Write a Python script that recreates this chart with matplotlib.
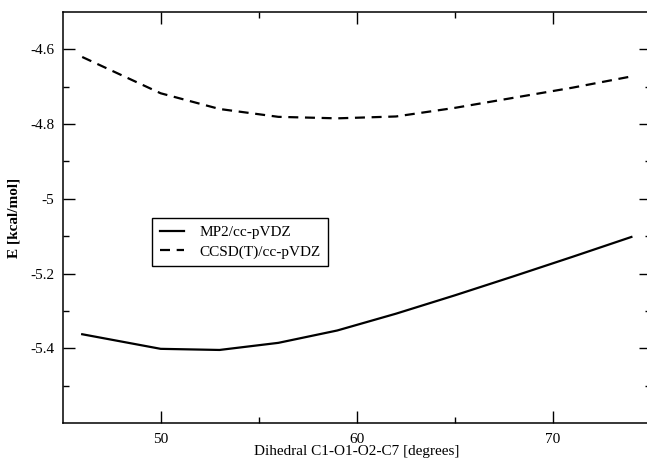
import matplotlib
matplotlib.use("Agg")
import matplotlib.pyplot as plt
from matplotlib.ticker import FixedLocator, FixedFormatter

dihedral = [46, 50, 53, 56, 59, 62, 65, 68, 71, 74]
mp2 = [-5.362, -5.401, -5.404, -5.385, -5.352, -5.307, -5.258, -5.207, -5.155, -5.102]
ccsd = [-4.621, -4.718, -4.760, -4.781, -4.785, -4.780, -4.757, -4.730, -4.703, -4.673]

xticks = [50, 60, 70]
xtick_labels = ["50", "60", "70"]
yticks = [-5.4, -5.2, -5.0, -4.8, -4.6]
ytick_labels = ["-5.4", "-5.2", "-5", "-4.8", "-4.6"]

plt.rcParams['font.family'] = ['Liberation Serif', 'DejaVu Serif']

W, H = 647, 462
fig = plt.figure(figsize=(W / 100, H / 100), dpi=100)
left_px, right_px, top_px, bottom_px = 62.6, 651.0, 11.7, 423.3
ax = fig.add_axes([left_px / W, 1 - bottom_px / H,
                   (right_px - left_px) / W, (bottom_px - top_px) / H])

ax.plot(dihedral, mp2, color='black', lw=1.6, label='MP2/cc-pVDZ')
ax.plot(dihedral, ccsd, color='black', lw=1.6, dashes=(4.5, 3), label='CCSD(T)/cc-pVDZ')

ax.set_xlim(45, 75)
ax.set_ylim(-5.6, -4.5)

ax.xaxis.set_major_locator(FixedLocator(xticks))
ax.xaxis.set_major_formatter(FixedFormatter(xtick_labels))
ax.xaxis.set_minor_locator(FixedLocator([55, 65]))
ax.yaxis.set_major_locator(FixedLocator(yticks))
ax.yaxis.set_major_formatter(FixedFormatter(ytick_labels))
ax.yaxis.set_minor_locator(FixedLocator([-5.5, -5.3, -5.1, -4.9, -4.7]))

ax.tick_params(which='both', direction='in', top=True, right=True, width=1.0,
               labelsize=11, colors='black')
ax.tick_params(which='major', length=8.6, pad=6)
ax.tick_params(axis='x', which='major', pad=7)
ax.tick_params(which='minor', length=4.3)
for s in ax.spines.values():
    s.set_linewidth(1.1)

ax.set_xlabel('Dihedral C1-O1-O2-C7 [degrees]', fontsize=11, labelpad=-1)
ax.set_ylabel('E [kcal/mol]', fontsize=11, fontweight='bold', labelpad=7)

leg = ax.legend(loc='upper left', bbox_to_anchor=(152 / W, 1 - 218 / H),
                bbox_transform=fig.transFigure, fontsize=11, frameon=True,
                fancybox=False, edgecolor='black', framealpha=1,
                handlelength=1.6, handletextpad=1.0, borderpad=0.5,
                labelspacing=0.35, borderaxespad=0)
leg.get_frame().set_linewidth(1.0)

fig.savefig('out.png', dpi=100)
